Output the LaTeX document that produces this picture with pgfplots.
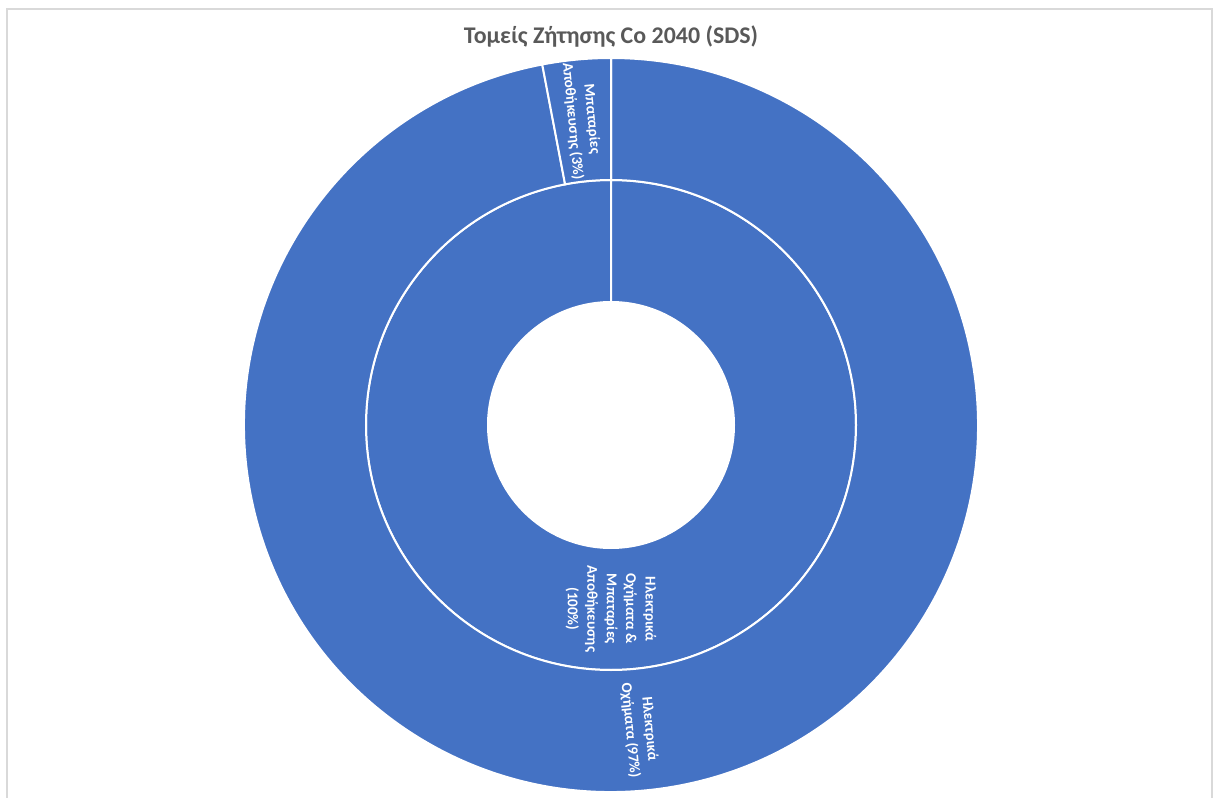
\documentclass[border=0pt]{standalone}
\usepackage{pgfplots}
\pgfplotsset{compat=1.18}
\usepackage{pgfplotstable}
\usepackage{fontspec}
\setmainfont{Carlito}
\definecolor{sbblue}{HTML}{4472C4}
\definecolor{titlegray}{HTML}{595959}
\definecolor{framegray}{HTML}{D9D9D9}

% ring value (percent)
\pgfplotstableread{
ring label value
outer EV 97
outer Bat 3
inner All 100
}\sundata

\pgfplotstablegetelem{0}{value}\of\sundata \let\vEV\pgfplotsretval
\pgfplotstablegetelem{1}{value}\of\sundata \let\vBat\pgfplotsretval
\pgfplotstablegetelem{2}{value}\of\sundata \let\vAll\pgfplotsretval

\pgfmathsetmacro{\aEVs}{90}
\pgfmathsetmacro{\aEVe}{90-3.6*\vEV}
\pgfmathsetmacro{\aBats}{\aEVe}
\pgfmathsetmacro{\aBate}{\aBats-3.6*\vBat}
\pgfmathsetmacro{\aAlls}{90}
\pgfmathsetmacro{\aAlle}{90-3.6*\vAll}
\pgfmathsetmacro{\mEV}{(\aEVs+\aEVe)/2}
\pgfmathsetmacro{\mBat}{(\aBats+\aBate)/2}
\pgfmathsetmacro{\mAll}{(\aAlls+\aAlle)/2}

\newcommand{\sector}[4]{%
  \fill[sbblue, draw=white, line width=2bp]
    (#3:#1 bp) arc[start angle=#3, end angle=#4, radius=#1 bp]
    -- (#4:#2 bp) arc[start angle=#4, end angle=#3, radius=#2 bp] -- cycle;}

\begin{document}
\begin{tikzpicture}
\begin{axis}[
  hide axis, x=1bp, y=1bp,
  xmin=0, xmax=1214, ymin=0, ymax=798,
  clip=false, scale only axis]
  \addplot[draw=none, mark=none, forget plot] coordinates {(0,0) (1214,798)};
  % frame
  \draw[framegray, line width=2bp] (axis cs:7,0) -- (axis cs:7,789) -- (axis cs:1212,789) -- (axis cs:1212,0);
  % title
  \node[font=\fontsize{24}{28}\selectfont\bfseries, text=titlegray] at (axis cs:611,761) {Τομείς Ζήτησης Co 2040 (SDS)};
  \begin{scope}[shift={(axis cs:611,373)}]
    \sector{123}{245}{\aAlls}{\aAlle}
    \sector{245}{367}{\aEVs}{\aEVe}
    \sector{245}{367}{\aBats}{\aBate}
    \node[text=white, font=\fontsize{15}{19.5}\selectfont\bfseries, align=center, rotate=\mAll]
      at (\mAll:184bp) {Ηλεκτρικά\\Οχήματα \&\\Μπαταρίες\\Αποθήκευσης\\(100\%)};
    \node[text=white, font=\fontsize{15}{19.5}\selectfont\bfseries, align=center, rotate=\mEV]
      at (\mEV:306bp) {Ηλεκτρικά\\Οχήματα (97\%)};
    \node[text=white, font=\fontsize{15}{19.5}\selectfont\bfseries, align=center, rotate=\mBat+180]
      at (\mBat:306bp) {Μπαταρίες\\Αποθήκευσης (3\%)};
  \end{scope}
\end{axis}
\pgfresetboundingbox
\path (0,0) rectangle (1214bp,798bp);
\end{tikzpicture}
\end{document}
